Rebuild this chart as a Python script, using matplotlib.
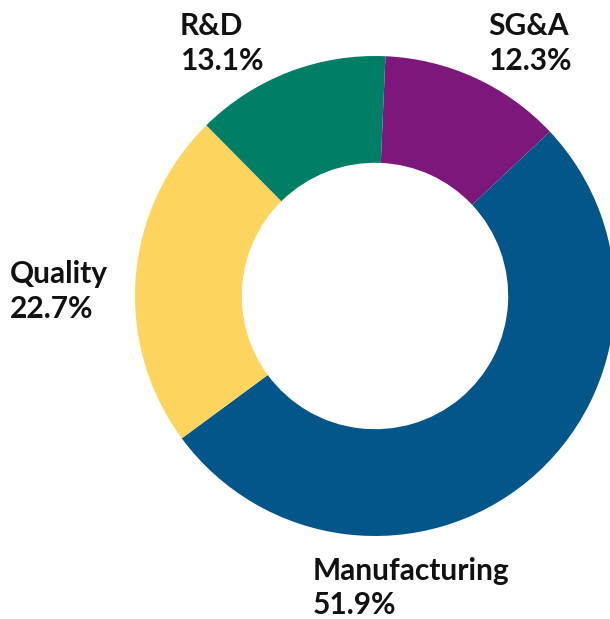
import matplotlib
matplotlib.use("Agg")
import matplotlib.pyplot as plt

categories = ["SG&A", "Manufacturing", "Quality", "R&D"]
values = [12.3, 51.9, 22.7, 13.1]
colors = ["#7E177B", "#03568A", "#FDD55E", "#007F66"]
label_texts = ["SG&A\n12.3%", "Manufacturing\n51.9%", "Quality\n22.7%", "R&D\n13.1%"]

W, H = 610, 619
fig = plt.figure(figsize=(W / 100, H / 100), dpi=100)
cx, cy, R = 375, 296, 240
ax = fig.add_axes([(cx - R) / W, (H - cy - R) / H, 2 * R / W, 2 * R / H])
ax.pie(values, colors=colors, startangle=87.5, counterclock=False, radius=1,
       wedgeprops=dict(width=0.445, linewidth=0))
ax.set_xlim(-1, 1)
ax.set_ylim(-1, 1)
ax.set_aspect("equal")
ax.axis("off")

# label anchor positions (left x, baseline of first line) in pixels from top-left
label_pos = {"SG&A": (488, 35), "Manufacturing": (313, 580), "Quality": (10, 283), "R&D": (180, 35)}
for cat, txt in zip(categories, label_texts):
    x, y = label_pos[cat]
    first, second = txt.split("\n")
    fig.text(x / W, 1 - y / H, first, ha="left", va="baseline",
             fontsize=21.5, fontweight="bold", family=["Lato", "DejaVu Sans"], color="#111111")
    fig.text(x / W, 1 - (y + 34.5) / H, second, ha="left", va="baseline",
             fontsize=21.5, fontweight="bold", family=["Lato", "DejaVu Sans"], color="#111111")

fig.savefig("out.png", dpi=100)
